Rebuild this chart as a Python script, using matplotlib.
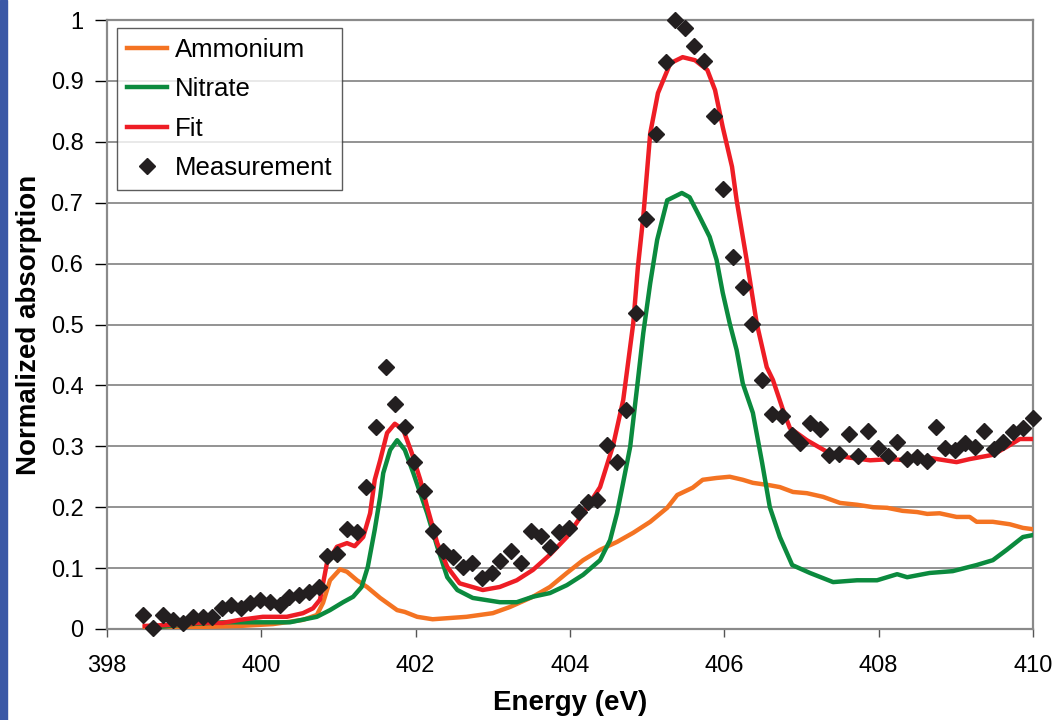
import matplotlib.pyplot as plt
from matplotlib.patches import Rectangle

plt.rcParams['font.family'] = ['Liberation Sans', 'DejaVu Sans']

#----------------------------------------------------------------------------------------------------------------------------
# DATA
#----------------------------------------------------------------------------------------------------------------------------
meas_x = [398.47, 398.60, 398.73, 398.86, 398.98, 399.11, 399.24, 399.36, 399.49, 399.61,
          399.74, 399.85, 399.98, 400.11, 400.24, 400.36, 400.49, 400.62, 400.75, 400.85,
          400.98, 401.11, 401.24, 401.36, 401.49, 401.62, 401.73, 401.86, 401.98, 402.11,
          402.22, 402.35, 402.48, 402.61, 402.73, 402.86, 402.99, 403.09, 403.24, 403.36,
          403.49, 403.62, 403.74, 403.86, 403.99, 404.12, 404.23, 404.35, 404.48, 404.61,
          404.73, 404.86, 404.98, 405.11, 405.24, 405.36, 405.49, 405.61, 405.74, 405.87,
          405.98, 406.11, 406.24, 406.36, 406.49, 406.62, 406.75, 406.88, 406.98, 407.11,
          407.24, 407.36, 407.49, 407.62, 407.73, 407.86, 407.99, 408.12, 408.24, 408.37,
          408.50, 408.63, 408.74, 408.86, 408.99, 409.12, 409.25, 409.36, 409.49, 409.61,
          409.74, 409.87, 410.0]
meas_y = [0.023, 0.002, 0.023, 0.015, 0.010, 0.020, 0.020, 0.020, 0.034, 0.039,
          0.034, 0.043, 0.048, 0.044, 0.039, 0.053, 0.056, 0.061, 0.069, 0.120,
          0.123, 0.164, 0.159, 0.233, 0.332, 0.430, 0.369, 0.332, 0.274, 0.227,
          0.161, 0.128, 0.118, 0.102, 0.108, 0.084, 0.092, 0.112, 0.128, 0.108,
          0.161, 0.153, 0.135, 0.159, 0.166, 0.192, 0.209, 0.212, 0.302, 0.274,
          0.360, 0.519, 0.673, 0.813, 0.931, 1.000, 0.987, 0.957, 0.933, 0.842,
          0.722, 0.611, 0.562, 0.501, 0.409, 0.353, 0.350, 0.319, 0.305, 0.338,
          0.328, 0.286, 0.287, 0.320, 0.284, 0.325, 0.297, 0.284, 0.307, 0.279,
          0.282, 0.276, 0.332, 0.297, 0.294, 0.305, 0.299, 0.325, 0.296, 0.307,
          0.323, 0.330, 0.346]

fit_x = [398.49, 398.86, 399.21, 399.50, 399.72, 400.02, 400.33, 400.54, 400.67, 400.76,
         400.85, 400.98, 401.11, 401.21, 401.32, 401.41, 401.47, 401.54, 401.63, 401.73,
         401.84, 401.95, 402.06, 402.15, 402.28, 402.41, 402.57, 402.87, 403.09, 403.31,
         403.52, 403.74, 403.96, 404.17, 404.39, 404.56, 404.69, 404.82, 404.88, 404.95,
         405.04, 405.14, 405.30, 405.46, 405.62, 405.78, 405.88, 405.98, 406.10, 406.16,
         406.29, 406.42, 406.55, 406.63, 406.76, 406.85, 407.07, 407.33, 407.59, 407.89,
         408.15, 408.37, 408.66, 409.01, 409.18, 409.48, 409.66, 409.83, 409.99]
fit_y = [0.005, 0.007, 0.010, 0.010, 0.015, 0.020, 0.020, 0.026, 0.034, 0.048,
         0.108, 0.135, 0.141, 0.136, 0.151, 0.190, 0.245, 0.277, 0.322, 0.337,
         0.327, 0.289, 0.245, 0.200, 0.141, 0.102, 0.075, 0.064, 0.069, 0.080,
         0.097, 0.122, 0.151, 0.190, 0.233, 0.302, 0.376, 0.502, 0.594, 0.677,
         0.814, 0.880, 0.929, 0.939, 0.934, 0.918, 0.885, 0.824, 0.759, 0.704,
         0.606, 0.502, 0.430, 0.409, 0.360, 0.330, 0.310, 0.291, 0.282, 0.277,
         0.279, 0.277, 0.281, 0.274, 0.279, 0.286, 0.299, 0.312, 0.312]

nit_x = [398.65, 399.08, 399.50, 399.94, 400.37, 400.72, 400.89, 401.06, 401.19, 401.30,
         401.38, 401.47, 401.54, 401.58, 401.67, 401.76, 401.86, 401.97, 402.09, 402.15,
         402.28, 402.41, 402.54, 402.74, 403.09, 403.31, 403.52, 403.74, 403.96, 404.17,
         404.39, 404.52, 404.61, 404.67, 404.78, 404.87, 404.95, 405.04, 405.13, 405.26,
         405.45, 405.55, 405.68, 405.81, 405.90, 405.98, 406.07, 406.16, 406.24, 406.37,
         406.49, 406.59, 406.72, 406.88, 407.11, 407.41, 407.72, 407.98, 408.24, 408.37,
         408.66, 408.96, 409.27, 409.48, 409.66, 409.87, 409.99]
nit_y = [0.003, 0.008, 0.011, 0.011, 0.011, 0.020, 0.031, 0.044, 0.053, 0.069,
         0.102, 0.163, 0.217, 0.256, 0.294, 0.310, 0.294, 0.256, 0.212, 0.190,
         0.135, 0.085, 0.064, 0.051, 0.044, 0.044, 0.053, 0.059, 0.072, 0.089,
         0.113, 0.146, 0.190, 0.228, 0.299, 0.397, 0.486, 0.568, 0.639, 0.704,
         0.716, 0.709, 0.677, 0.644, 0.606, 0.552, 0.502, 0.458, 0.403, 0.355,
         0.273, 0.200, 0.151, 0.105, 0.092, 0.077, 0.080, 0.080, 0.090, 0.085,
         0.092, 0.095, 0.105, 0.113, 0.130, 0.151, 0.154]

amm_x = [398.49, 399.08, 399.72, 400.15, 400.54, 400.72, 400.80, 400.89, 401.02, 401.11,
         401.24, 401.37, 401.54, 401.76, 401.86, 402.02, 402.22, 402.44, 402.66, 403.00,
         403.22, 403.52, 403.74, 403.96, 404.17, 404.39, 404.61, 404.82, 405.04, 405.26,
         405.39, 405.59, 405.72, 405.90, 406.07, 406.24, 406.37, 406.59, 406.72, 406.89,
         407.07, 407.28, 407.50, 407.72, 407.93, 408.11, 408.31, 408.50, 408.63, 408.79,
         409.01, 409.18, 409.27, 409.48, 409.70, 409.87, 409.99]
amm_y = [0.003, 0.003, 0.005, 0.008, 0.015, 0.023, 0.043, 0.080, 0.098, 0.094,
         0.080, 0.069, 0.051, 0.031, 0.028, 0.020, 0.016, 0.018, 0.020, 0.026,
         0.036, 0.053, 0.069, 0.092, 0.113, 0.130, 0.143, 0.158, 0.176, 0.199,
         0.220, 0.232, 0.245, 0.248, 0.250, 0.245, 0.240, 0.236, 0.233, 0.225,
         0.223, 0.217, 0.207, 0.204, 0.200, 0.199, 0.194, 0.192, 0.189, 0.190,
         0.184, 0.184, 0.176, 0.176, 0.172, 0.166, 0.164]

x_ticks = [398, 400, 402, 404, 406, 408, 410]
y_ticks = [0, 0.1, 0.2, 0.3, 0.4, 0.5, 0.6, 0.7, 0.8, 0.9, 1]
y_labels = ['0', '0.1', '0.2', '0.3', '0.4', '0.5', '0.6', '0.7', '0.8', '0.9', '1']

#----------------------------------------------------------------------------------------------------------------------------
# PLOT
#----------------------------------------------------------------------------------------------------------------------------
fig = plt.figure(figsize=(10.52, 7.2), dpi=100)
ax = fig.add_axes([0.1017, 0.1264, 0.8802, 0.8458])

# blue strip on the left edge
fig.patches.append(Rectangle((0, 0), 7 / 1052, 1, transform=fig.transFigure,
                             color='#3a58a6', zorder=0))

ax.plot(amm_x, amm_y, color='#f47322', lw=3.2, label='Ammonium', zorder=3)
ax.plot(nit_x, nit_y, color='#0b8a3e', lw=3.2, label='Nitrate', zorder=3)
ax.plot(fit_x, fit_y, color='#ee1d25', lw=3.2, label='Fit', zorder=4)
ax.plot(meas_x, meas_y, 'D', color='#231f20', ms=8.5, ls='none', label='Measurement', zorder=5,
        clip_on=False)

ax.set_xlim(398, 410)
ax.set_ylim(0, 1)
ax.set_xticks(x_ticks)
ax.set_yticks(y_ticks)
ax.set_yticklabels(y_labels)
ax.yaxis.grid(True, color='#8a8a8a', lw=1.3)
ax.set_axisbelow(True)

for s in ax.spines.values():
    s.set_color('#8a8a8a')
    s.set_linewidth(1.6)

ax.tick_params(axis='y', direction='out', length=9, width=1, color='black', pad=8, labelsize=17)
ax.tick_params(axis='x', direction='out', length=6, width=1, color='#555555', pad=13, labelsize=17)

ax.set_xlabel('Energy (eV)', fontsize=20, fontweight='bold', labelpad=9)
ax.set_ylabel('Normalized absorption', fontsize=20, fontweight='bold', labelpad=6)

leg = ax.legend(loc='upper left', bbox_to_anchor=(0.011, 0.987), borderaxespad=0,
                fontsize=18.5, frameon=True, fancybox=False, handlelength=1.55,
                handletextpad=0.32, labelspacing=0.6, borderpad=0.38, numpoints=1)
leg.get_frame().set_edgecolor('#333333')
leg.get_frame().set_linewidth(1.0)

fig.savefig('out.png', dpi=100)
